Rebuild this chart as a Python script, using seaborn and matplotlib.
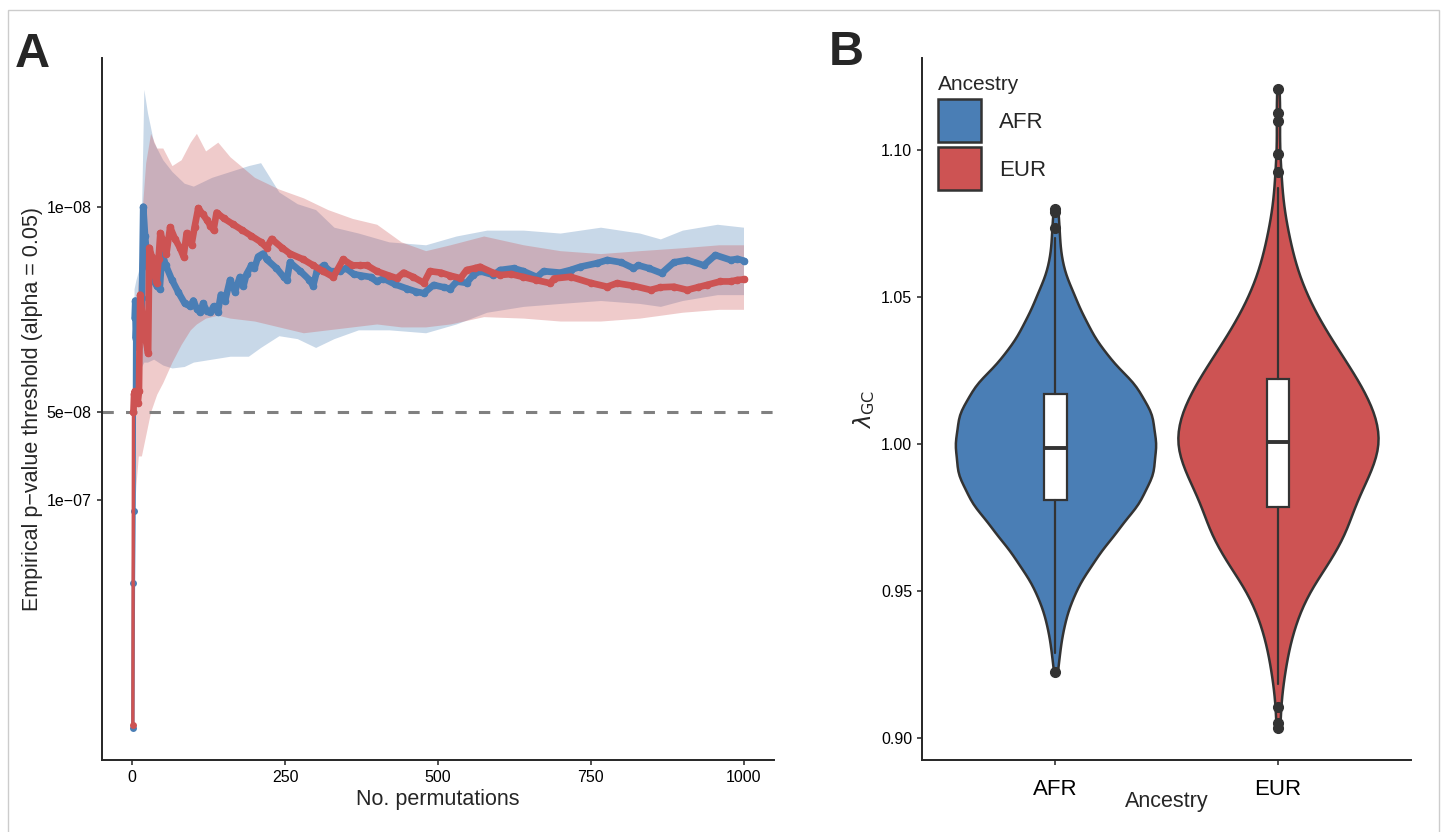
import numpy as np
import pandas as pd
import matplotlib.pyplot as plt
import seaborn as sns
from matplotlib.patches import Patch, Rectangle
from matplotlib.legend_handler import HandlerPatch

AFR_COLOR = "#4A7EB5"
EUR_COLOR = "#CD5353"
DARK = "#333333"

# ---- panel A: empirical threshold vs number of permutations (-log10 p) ----
afr_perm = [1, 2, 3, 4, 5, 6, 8, 10, 12, 14, 16, 18, 21, 24, 29, 34, 40, 45, 49, 55,
            65, 75, 86, 95, 100, 106, 111, 116, 122, 128, 133, 140, 145, 152, 160, 168,
            176, 182, 187, 195, 200, 206, 214, 220, 236, 248, 253, 258, 275, 290, 296,
            302, 313, 324, 340, 350, 362, 375, 390, 400, 411, 430, 450, 465, 477, 493,
            510, 520, 531, 547, 558, 569, 591, 602, 624, 640, 662, 673, 700, 717, 733,
            760, 777, 800, 820, 828, 845, 866, 886, 908, 935, 954, 979, 990, 1000]
afr_thr = [6.222, 6.718, 6.963, 7.62, 7.68, 7.55, 7.64, 7.52, 7.62, 7.58, 7.69, 8.00,
           7.90, 7.83, 7.77, 7.75, 7.73, 7.72, 7.84, 7.80, 7.75, 7.71, 7.67, 7.66, 7.68,
           7.65, 7.64, 7.67, 7.645, 7.64, 7.66, 7.64, 7.70, 7.68, 7.75, 7.71, 7.76, 7.73,
           7.77, 7.80, 7.79, 7.83, 7.84, 7.82, 7.79, 7.76, 7.75, 7.81, 7.78, 7.75, 7.73,
           7.78, 7.80, 7.78, 7.78, 7.79, 7.77, 7.765, 7.76, 7.745, 7.755, 7.735, 7.72,
           7.71, 7.705, 7.733, 7.725, 7.72, 7.745, 7.74, 7.767, 7.78, 7.767, 7.784, 7.79,
           7.78, 7.76, 7.78, 7.775, 7.784, 7.795, 7.807, 7.818, 7.81, 7.79, 7.80, 7.79,
           7.773, 7.81, 7.818, 7.80, 7.835, 7.818, 7.822, 7.816]

eur_perm = [1, 2, 3, 4, 5, 7, 9, 11, 13, 17, 21, 26, 28, 32, 36, 40, 43, 46, 51, 56,
            62, 70, 78, 84, 89, 97, 102, 108, 115, 122, 128, 133, 138, 150, 165, 180,
            195, 210, 220, 228, 245, 258, 280, 296, 312, 329, 345, 360, 373, 384, 400,
            420, 433, 444, 460, 477, 487, 505, 520, 537, 547, 560, 569, 590, 602, 620,
            640, 660, 684, 690, 717, 750, 777, 793, 820, 848, 864, 886, 908, 925, 940,
            962, 979, 990, 1000]
eur_thr = [6.233, 7.30, 7.36, 7.37, 7.34, 7.36, 7.33, 7.37, 7.70, 7.62, 7.56, 7.50,
           7.86, 7.83, 7.78, 7.74, 7.82, 7.91, 7.88, 7.84, 7.93, 7.89, 7.86, 7.83, 7.91,
           7.87, 7.93, 7.995, 7.975, 7.955, 7.935, 7.92, 7.98, 7.96, 7.94, 7.92, 7.90,
           7.88, 7.86, 7.89, 7.86, 7.84, 7.82, 7.80, 7.78, 7.76, 7.82, 7.80, 7.80, 7.80,
           7.78, 7.765, 7.756, 7.775, 7.76, 7.74, 7.78, 7.775, 7.765, 7.756, 7.784, 7.79,
           7.795, 7.775, 7.767, 7.77, 7.76, 7.75, 7.739, 7.755, 7.761, 7.74, 7.727, 7.739,
           7.73, 7.716, 7.725, 7.727, 7.716, 7.725, 7.733, 7.745, 7.745, 7.75, 7.752]

# confidence bands
afr_band_perm = [3, 6, 10, 14, 19, 25, 35, 50, 65, 85, 100, 130, 160, 190, 210, 240,
                 270, 300, 330, 370, 420, 480, 530, 580, 640, 700, 766, 830, 864, 900,
                 957, 1000]
afr_band_lo = [7.35, 7.40, 7.42, 7.45, 7.47, 7.47, 7.48, 7.46, 7.45, 7.455, 7.47, 7.48,
               7.49, 7.49, 7.52, 7.56, 7.55, 7.52, 7.55, 7.58, 7.58, 7.57, 7.60, 7.64,
               7.66, 7.67, 7.68, 7.67, 7.66, 7.68, 7.70, 7.70]
afr_band_hi = [7.72, 7.75, 7.78, 7.85, 8.40, 8.32, 8.22, 8.16, 8.12, 8.08, 8.07, 8.10,
               8.12, 8.14, 8.15, 8.05, 8.01, 7.99, 7.93, 7.91, 7.88, 7.87, 7.90, 7.92,
               7.92, 7.91, 7.93, 7.91, 7.89, 7.92, 7.94, 7.93]

eur_band_perm = [2, 6, 10, 15, 22, 30, 40, 50, 65, 80, 95, 105, 120, 140, 160, 200,
                 240, 280, 320, 360, 400, 440, 480, 520, 575, 640, 700, 766, 830, 900,
                 960, 1000]
eur_band_lo = [6.90, 7.05, 7.15, 7.15, 7.22, 7.30, 7.36, 7.40, 7.47, 7.53, 7.58, 7.60,
               7.62, 7.63, 7.62, 7.61, 7.59, 7.57, 7.58, 7.59, 7.60, 7.59, 7.59, 7.60,
               7.625, 7.62, 7.61, 7.61, 7.62, 7.64, 7.65, 7.65]
eur_band_hi = [7.40, 7.65, 7.75, 7.95, 8.15, 8.25, 8.20, 8.20, 8.14, 8.16, 8.22, 8.25,
               8.19, 8.22, 8.17, 8.10, 8.06, 8.03, 7.99, 7.96, 7.94, 7.88, 7.85, 7.87,
               7.90, 7.87, 7.85, 7.84, 7.85, 7.86, 7.87, 7.87]

genome_wide_p = 5e-8
ytick_p = [1e-8, 5e-8, 1e-7]
ytick_labels = ["1e\u221208", "5e\u221208", "1e\u221207"]
xticks_a = [0, 250, 500, 750, 1000]

# ---- panel B: lambda GC distribution (binned values) ----
afr_bins = [0.93, 0.94, 0.95, 0.96, 0.97, 0.98, 0.99, 1.00, 1.01, 1.02, 1.03, 1.04,
            1.05, 1.06, 1.07]
afr_counts = [4, 9, 19, 37, 59, 83, 97, 99, 96, 80, 50, 32, 19, 7, 3]
afr_outliers = [0.9224, 1.0735, 1.0790, 1.0800]
eur_bins = [0.92, 0.93, 0.94, 0.95, 0.96, 0.97, 0.98, 0.99, 1.00, 1.01, 1.02, 1.03,
            1.04, 1.05, 1.06, 1.07, 1.08, 1.09]
eur_counts = [5, 9, 16, 27, 46, 61, 68, 82, 92, 87, 74, 57, 40, 26, 16, 10, 5, 2]
eur_outliers = [0.9034, 0.9050, 0.9105, 1.0925, 1.0986, 1.1100, 1.1126, 1.1207]

# box summaries (q1, median, q3, whisker low, whisker high)
afr_box = [0.9810, 0.9988, 1.0171, 0.9290, 1.0700]
eur_box = [0.9787, 1.0006, 1.0222, 0.9185, 1.0870]

ancestries = ["AFR", "EUR"]
palette = {"AFR": AFR_COLOR, "EUR": EUR_COLOR}

sns.set_style("ticks")
plt.rcParams["font.family"] = ["Liberation Sans", "DejaVu Sans"]
plt.rcParams["axes.linewidth"] = 1.4
plt.rcParams["xtick.major.width"] = 1.2
plt.rcParams["ytick.major.width"] = 1.2
plt.rcParams["xtick.major.size"] = 3.6
plt.rcParams["ytick.major.size"] = 3.6
plt.rcParams["xtick.color"] = "#333333"
plt.rcParams["ytick.color"] = "#333333"
plt.rcParams["xtick.labelcolor"] = "black"
plt.rcParams["ytick.labelcolor"] = "black"

fig = plt.figure(figsize=(14.42, 8.32), dpi=100)
ax_a = fig.add_axes([0.0705, 0.0865, 0.4663, 0.8438])
ax_b = fig.add_axes([0.6394, 0.0865, 0.3394, 0.8438])

# ---------------- panel A ----------------
bands = [
    ("AFR", afr_band_perm, afr_band_lo, afr_band_hi),
    ("EUR", eur_band_perm, eur_band_lo, eur_band_hi),
]
for name, bx, lo, hi in bands:
    ax_a.fill_between(bx, lo, hi, color=palette[name], alpha=0.3, linewidth=0, zorder=1)

ax_a.axhline(-np.log10(genome_wide_p), color="#808080", linewidth=2.2,
             dashes=(3.7, 4.0), zorder=2)

line_df = pd.concat([
    pd.DataFrame({"perm": afr_perm, "thr": afr_thr, "ancestry": "AFR"}),
    pd.DataFrame({"perm": eur_perm, "thr": eur_thr, "ancestry": "EUR"}),
])
# the first few permutations are sparse dots on a thin line; later ones pile up
# into a thick band
thick_df = pd.concat([
    pd.DataFrame({"perm": afr_perm[3:], "thr": afr_thr[3:], "ancestry": "AFR"}),
    pd.DataFrame({"perm": eur_perm[1:], "thr": eur_thr[1:], "ancestry": "EUR"}),
])
sns.lineplot(data=line_df, x="perm", y="thr", hue="ancestry", hue_order=ancestries,
             palette=palette, estimator=None, sort=False, marker="o", markersize=5,
             markeredgewidth=0, linewidth=2.4, legend=False, ax=ax_a, zorder=3)
sns.lineplot(data=thick_df, x="perm", y="thr", hue="ancestry", hue_order=ancestries,
             palette=palette, estimator=None, sort=False, marker="o", markersize=5.5,
             markeredgewidth=0, linewidth=4.8, legend=False, ax=ax_a, zorder=3)

ax_a.set_xlim(-50, 1050)
ax_a.set_ylim(6.113, 8.507)
ax_a.set_xticks(xticks_a)
ax_a.set_xticklabels([str(t) for t in xticks_a], fontsize=11.5)
ax_a.set_yticks(-np.log10(ytick_p))
ax_a.set_yticklabels(ytick_labels, fontsize=11.5)
ax_a.set_xlabel("No. permutations", fontsize=15.5, labelpad=3)
ax_a.set_ylabel("Empirical p\u2212value threshold (alpha = 0.05)", fontsize=15.5, labelpad=2.5)
sns.despine(ax=ax_a)

# ---------------- panel B ----------------
violin_df = pd.concat([
    pd.DataFrame({"ancestry": "AFR",
                  "lam": np.concatenate([np.repeat(afr_bins, afr_counts), afr_outliers])}),
    pd.DataFrame({"ancestry": "EUR",
                  "lam": np.concatenate([np.repeat(eur_bins, eur_counts), eur_outliers])}),
])
sns.violinplot(data=violin_df, x="ancestry", y="lam", hue="ancestry", order=ancestries,
               hue_order=ancestries, palette=palette, saturation=1, inner=None, cut=0,
               width=0.9, density_norm="area", bw_adjust=0.8, linewidth=1.8,
               linecolor=DARK, legend=False, ax=ax_b)

box_stats = []
for name, b, fl in [("AFR", afr_box, afr_outliers), ("EUR", eur_box, eur_outliers)]:
    box_stats.append({"label": name, "q1": b[0], "med": b[1], "q3": b[2],
                      "whislo": b[3], "whishi": b[4], "fliers": fl})
ax_b.bxp(box_stats, positions=[0, 1], widths=0.1, patch_artist=True, showcaps=False,
         manage_ticks=False,
         boxprops=dict(facecolor="white", edgecolor=DARK, linewidth=1.6),
         medianprops=dict(color=DARK, linewidth=2.8, solid_capstyle="butt"),
         whiskerprops=dict(color=DARK, linewidth=1.6),
         flierprops=dict(marker="o", markerfacecolor=DARK, markeredgecolor=DARK,
                         markersize=7))

ax_b.set_xlim(-0.6, 1.6)
ax_b.set_ylim(0.8925, 1.1313)
ax_b.set_xticks([0, 1])
ax_b.set_xticklabels(ancestries, fontsize=16)
ax_b.tick_params(axis="x", pad=10)
ax_b.set_yticks([0.90, 0.95, 1.00, 1.05, 1.10])
ax_b.set_yticklabels(["0.90", "0.95", "1.00", "1.05", "1.10"], fontsize=11.5)
ax_b.set_ylabel(r"$\lambda_{\mathsf{GC}}$", fontsize=16.5)
ax_b.yaxis.set_label_coords(-0.092, 0.5)
ax_b.set_xlabel("Ancestry", fontsize=15.5)
ax_b.xaxis.set_label_coords(0.5, -0.044)
sns.despine(ax=ax_b)

KEY_SIZE = 31  # points


def full_key(legend, orig_handle, xdescent, ydescent, width, height, fontsize):
    # square key centred on the label's cap height (baseline is y = 0)
    return Rectangle((-xdescent, 0.358 * fontsize - KEY_SIZE / 2), width, KEY_SIZE)


handles = [Patch(facecolor=palette[n], edgecolor=DARK, linewidth=1.8, label=n)
           for n in ancestries]
ax_b.legend(handles=handles, title="Ancestry", loc="upper left",
            bbox_to_anchor=(0.033, 0.9755), frameon=False, fontsize=16,
            title_fontsize=15, handlelength=1.95, handleheight=2.41, labelspacing=0.33,
            handletextpad=0.8, borderpad=0, borderaxespad=0, alignment="left",
            handler_map={Patch: HandlerPatch(patch_func=full_key)})

# panel letters and outer frame
fig.text(15 / 1442, 1 - 67 / 832, "A", fontsize=35, fontweight="bold", va="baseline")
fig.text(829 / 1442, 1 - 65 / 832, "B", fontsize=35, fontweight="bold", va="baseline")
fig.add_artist(Rectangle((8 / 1442, -0.1), (1439 - 8) / 1442, 1.1 - 10 / 832,
                         transform=fig.transFigure, fill=False, edgecolor="#cccccc",
                         linewidth=1))

fig.savefig("out.png", dpi=100)
